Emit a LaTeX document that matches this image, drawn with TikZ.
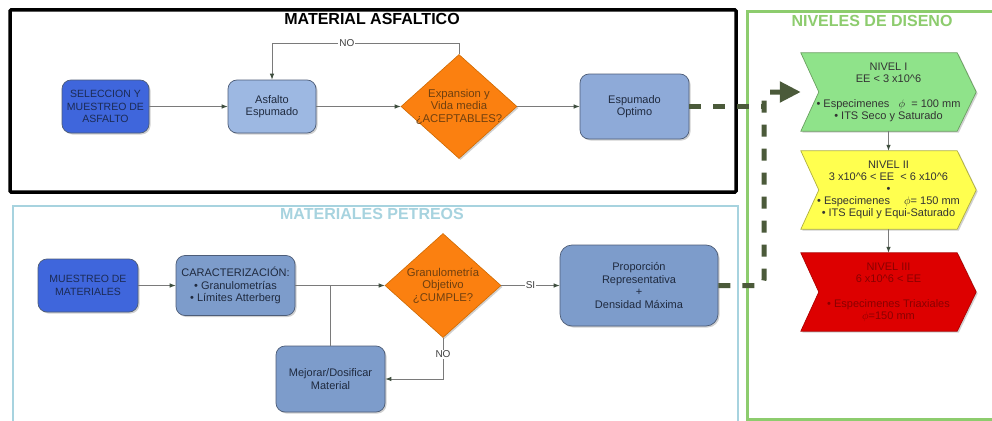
\documentclass[tikz,border=0pt]{standalone}
\usepackage{fontspec}
\setmainfont{Liberation Sans}
\usetikzlibrary{shapes.geometric,arrows.meta,shadows,calc,backgrounds}

\definecolor{royal}{HTML}{3F66DC}
\definecolor{royaltext}{HTML}{1C2B55}
\definecolor{steelA}{HTML}{9DB8E2}
\definecolor{steelB}{HTML}{8EAAD8}
\definecolor{steelC}{HTML}{7D9CCB}
\definecolor{boxborder}{HTML}{4D5D78}
\definecolor{boxtext}{HTML}{1F2A3F}
\definecolor{decfill}{HTML}{FB8010}
\definecolor{decborder}{HTML}{D06A00}
\definecolor{dectext}{HTML}{70400F}
\definecolor{linegray}{HTML}{7A7A7A}
\definecolor{arrowdark}{HTML}{3F4F3F}
\definecolor{dashgreen}{HTML}{4B5A3A}
\definecolor{framegreen}{HTML}{8DCC6E}
\definecolor{framecyan}{HTML}{A7D3DF}
\definecolor{lvlgreen}{HTML}{8FE38A}
\definecolor{lvlgreenb}{HTML}{6AA060}
\definecolor{lvlyellow}{HTML}{FFFF4F}
\definecolor{lvlyellowb}{HTML}{B0B040}
\definecolor{lvlred}{HTML}{DD0000}
\definecolor{lvlredb}{HTML}{B00000}
\definecolor{lvlredtext}{HTML}{8A0000}

\begin{document}
\begin{tikzpicture}[x=1pt,y=-1pt,
  softshadow/.style={drop shadow={shadow xshift=1.5pt,shadow yshift=-1.5pt,opacity=0.3,fill=black!60}},
  box/.style={rectangle,rounded corners=9pt,draw=boxborder,line width=0.7pt,softshadow,
    align=center,inner sep=2pt,text=boxtext,font=\fontsize{11}{12.5}\selectfont},
  startbox/.style={box,fill=royal,text=royaltext,font=\fontsize{10.5}{12.5}\selectfont},
  decision/.style={diamond,draw=decborder,line width=0.6pt,fill=decfill,softshadow,aspect=1.1,
    inner xsep=-9pt,inner ysep=-3pt,minimum width=116pt,minimum height=104pt,align=center,text=dectext,
    font=\fontsize{11.3}{12.5}\selectfont},
  title/.style={font=\bfseries\fontsize{16}{18}\selectfont,inner sep=1pt},
  conn/.style={draw=linegray,line width=0.8pt,-{Latex[length=6pt,width=4.5pt,color=arrowdark]}},
  plainline/.style={draw=linegray,line width=0.8pt},
  lbl/.style={fill=white,inner sep=1pt,text=black!75,font=\fontsize{10}{12}\selectfont},
  bigdash/.style={draw=dashgreen,line width=5pt,dash pattern=on 12pt off 12pt},
  lvltext/.style={rectangle,minimum width=175pt,minimum height=78pt,inner sep=0pt,align=center,
    text=black!80,font=\fontsize{11}{12}\selectfont},
  chev/.style={line width=0.7pt,softshadow}
]
\useasboundingbox (0,0) rectangle (992,420);

% Group frames and their titles
\draw[line width=3.5pt,black,rounded corners=1pt] (10,10) rectangle (736,192);
\draw[line width=2.5pt,framecyan] (13,440) -- (13,206) -- (738,206) -- (738,440);
\draw[line width=3pt,framegreen] (1010,12) -- (747,12) -- (747,419) -- (1010,419);

\node[title,text=black] (tA) at (372,19) {MATERIAL ASFALTICO};
\node[title,text=framegreen] (tN) at (872,21) {NIVELES DE DISENO};
\node[title,text=framecyan] (tP) at (372,214) {MATERIALES PETREOS};

% Asphalt process
\node[startbox,minimum width=87pt,minimum height=53pt] (sel) at (105.5,106.5) {SELECCION Y\\MUESTREO DE\\ASFALTO};
\node[box,fill=steelA,minimum width=88pt,minimum height=53pt] (asf) at (272,106.5) {Asfalto\\Espumado};
\node[decision] (exp) at (459,106.5) {Expansion y\\Vida media\\¿ACEPTABLES?};
\node[box,fill=steelB,minimum width=109pt,minimum height=65pt] (opt) at (634.5,106.5) {Espumado\\Optimo};

\draw[conn] (sel) -- (asf);
\draw[conn] (asf) -- (exp);
\draw[conn] (exp) -- (opt);
\draw[conn] (exp.north) -- ++(0,-11) -| node[pos=0.3,lbl] {NO} (asf.north);

% Aggregate process
\node[startbox,minimum width=100pt,minimum height=53pt] (mue) at (88,285.5) {MUESTREO DE\\MATERIALES};
\node[box,fill=steelC,minimum width=119pt,minimum height=60pt] (car) at (235.5,285.5) {CARACTERIZACIÓN:\\• Granulometrías\\• Límites Atterberg};
\node[decision] (gra) at (443,285.5) {Granulometría\\Objetivo\\¿CUMPLE?};
\node[box,fill=steelC,minimum width=109pt,minimum height=66pt] (mej) at (330.5,379) {Mejorar/Dosificar\\Material};
\node[box,fill=steelC,minimum width=158pt,minimum height=81pt,rounded corners=12pt] (pro) at (639,285.5) {Proporción\\Representativa\\+\\Densidad Máxima};

\draw[conn] (mue) -- (car);
\draw[conn] (car) -- (gra);
\draw[plainline] (mej.north) -- (mej.north |- car.east);
\draw[conn] (gra.south) |- node[pos=0.2,lbl] {NO} (mej.east);
\draw[conn] (gra) -- node[lbl] {SI} (pro);

% Design levels
\node[lvltext] (n1) at (888.5,92) {NIVEL I\\EE < 3 x10\textasciicircum6\\[13pt]• Especimenes \ \ $\phi$ \ = 100 mm\\• ITS Seco y Saturado};
\node[lvltext] (n2) at (888.5,190) {NIVEL II\\3 x10\textasciicircum6 < EE \ < 6 x10\textasciicircum6\\•\\• Especimenes \quad $\phi$= 150 mm\\• ITS Equil y Equi-Saturado};
\node[lvltext,text=lvlredtext] (n3) at (888.5,292) {NIVEL III\\6 x10\textasciicircum6 < EE\\[13pt]• Especimenes Triaxiales\\$\phi$=150 mm};

\begin{scope}[on background layer]
  \fill[white] (0,0) rectangle (992,420);
  \foreach \n/\f/\b in {n1/lvlgreen/lvlgreenb,n2/lvlyellow/lvlyellowb,n3/lvlred/lvlredb}{
    \filldraw[chev,fill=\f,draw=\b] (\n.north west) -- ($(\n.north east)+(-19,0)$) -- (\n.east)
      -- ($(\n.south east)+(-19,0)$) -- (\n.south west) -- ($(\n.west)+(18,0)$) -- cycle;
  }
\end{scope}

\draw[conn] (n1.south) -- (n2.north);
\draw[conn] (n2.south) -- (n3.north);

% Thick dashed links into the design levels
\coordinate (jx) at (764,0);
\draw[bigdash,rounded corners=6pt,-{Triangle[length=21pt,width=20pt]}] (pro.east) -| (jx |- n1.west) -- (n1.west);
\draw[bigdash] (opt.east) -- (opt.east -| jx);
\end{tikzpicture}
\end{document}
